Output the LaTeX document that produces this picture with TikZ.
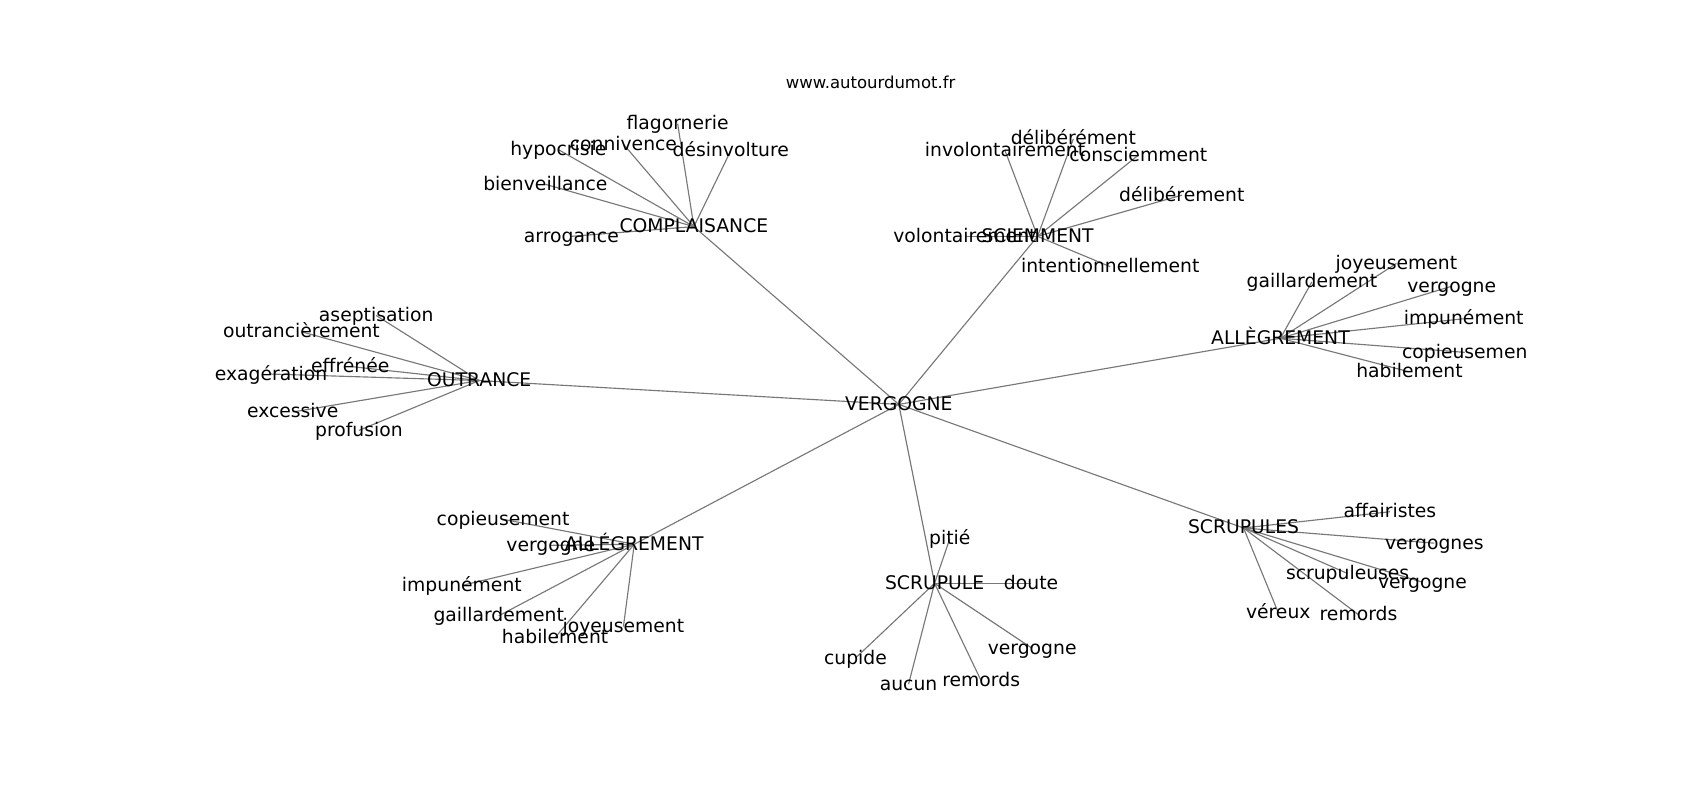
\documentclass[tikz,border=0pt]{standalone}
\usepackage{fontspec}
\setmainfont{DejaVu Sans}
\usetikzlibrary{backgrounds}
\definecolor{edgegray}{RGB}{120,120,120}
\tikzset{
  lbl/.style={inner sep=0pt, text height=1.2em, text depth=0.1em, font=\fontsize{17.3}{20}\selectfont},
  ttl/.style={inner sep=0pt, text height=1.2em, text depth=0.1em, font=\fontsize{15.2}{18}\selectfont},
  edge/.style={draw=edgegray, line width=1.05pt}
}
\begin{document}
\begin{tikzpicture}[x=1pt,y=-1pt]
\useasboundingbox (0,0) rectangle (1568,738);
\node[ttl] (title) at (803,76) {www.autourdumot.fr};
% hub
\node[lbl] (v) at (829,373) {VERGOGNE};
% COMPLAISANCE
\node[lbl] (c) at (640,209) {COMPLAISANCE};
\node[lbl] (c1) at (625,114) {flagornerie};
\node[lbl] (c2) at (575,133) {connivence};
\node[lbl] (c3) at (515,138) {hypocrisie};
\node[lbl] (c4) at (674,139) {désinvolture};
\node[lbl] (c5) at (503,170) {bienveillance};
\node[lbl] (c6) at (527,218) {arrogance};
% SCIEMMENT
\node[lbl] (s) at (957,218) {SCIEMMENT};
\node[lbl] (s1) at (927,139) {involontairement};
\node[lbl] (s2) at (990,128) {délibérément};
\node[lbl] (s3) at (1050,143) {consciemment};
\node[lbl] (s4) at (1090,180) {délibérement};
\node[lbl] (s5) at (890,218) {volontairement};
\node[lbl] (s6) at (1024,246) {intentionnellement};
% ALLÈGREMENT (right)
\node[lbl] (a) at (1181,312) {ALLÈGREMENT};
\node[lbl] (a1) at (1288,243) {joyeusement};
\node[lbl] (a2) at (1210,260) {gaillardement};
\node[lbl] (a3) at (1339,264) {vergogne};
\node[lbl] (a4) at (1350,294) {impunément};
\node[lbl] (a5) at (1351,325) {copieusemen};
\node[lbl] (a6) at (1300,343) {habilement};
% OUTRANCE
\node[lbl] (o) at (442,351) {OUTRANCE};
\node[lbl] (o1) at (347,291) {aseptisation};
\node[lbl] (o2) at (278,306) {outrancièrement};
\node[lbl] (o3) at (323,338) {effrénée};
\node[lbl] (o4) at (250,345) {exagération};
\node[lbl] (o5) at (270,380) {excessive};
\node[lbl] (o6) at (331,397) {profusion};
% ALLÉGREMENT (bottom left)
\node[lbl] (b) at (585,502) {ALLÉGREMENT};
\node[lbl] (b1) at (464,479) {copieusement};
\node[lbl] (b2) at (508,503) {vergogne};
\node[lbl] (b3) at (426,540) {impunément};
\node[lbl] (b4) at (460,568) {gaillardement};
\node[lbl] (b5) at (512,588) {habilement};
\node[lbl] (b6) at (575,578) {joyeusement};
% SCRUPULE
\node[lbl] (p) at (862,538) {SCRUPULE};
\node[lbl] (p1) at (876,497) {pitié};
\node[lbl] (p2) at (951,538) {doute};
\node[lbl] (p3) at (789,607) {cupide};
\node[lbl] (p4) at (838,631) {aucun};
\node[lbl] (p5) at (905,628) {remords};
\node[lbl] (p6) at (952,598) {vergogne};
% SCRUPULES
\node[lbl] (q) at (1147,487) {SCRUPULES};
\node[lbl] (q1) at (1282,472) {affairistes};
\node[lbl] (q2) at (1323,501) {vergognes};
\node[lbl] (q3) at (1243,529) {scrupuleuses};
\node[lbl] (q4) at (1312,537) {vergogne};
\node[lbl] (q5) at (1179,565) {véreux};
\node[lbl] (q6) at (1253,567) {remords};
\begin{pgfonlayer}{background}
\foreach \h in {c,s,a,o,b,p,q}{
  \draw[edge] (v.center) -- (\h.center);
  \foreach \k in {1,...,6}{
    \draw[edge] (\h.center) -- (\h\k.center);
  }
}
\end{pgfonlayer}
\end{tikzpicture}
\end{document}
